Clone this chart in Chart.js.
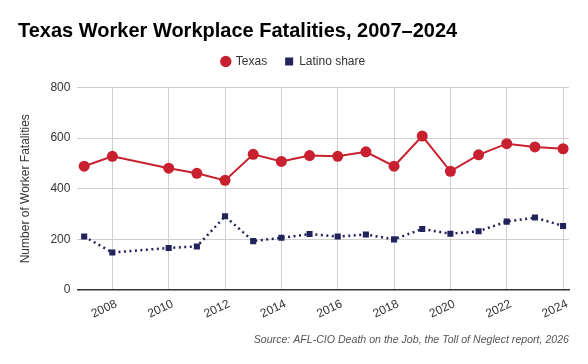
<!DOCTYPE html>
<html>
<head>
<meta charset="utf-8">
<script src="https://cdn.jsdelivr.net/npm/chart.js@4"></script>
<style>
html,body{margin:0;padding:0;background:#fff;}
#wrap{width:588px;height:364px;position:relative;}
</style>
</head>
<body>
<div id="wrap"><canvas id="c" width="588" height="364"></canvas></div>
<script>
const years = [2007, 2008, 2010, 2011, 2012, 2013, 2014, 2015, 2016, 2017, 2018, 2019, 2020, 2021, 2022, 2023, 2024];
const texas = [489, 528, 481, 461, 433, 536, 508, 531, 528, 546, 489, 608, 469, 534, 578, 565, 558];
const latinoShare = [211, 148, 166, 172, 291, 193, 206, 221, 211, 219, 200, 241, 222, 232, 270, 286, 253];
const xTickYears = [2008, 2010, 2012, 2014, 2016, 2018, 2020, 2022, 2024];
const yTicks = [0, 200, 400, 600, 800];

const FONT = "'Liberation Sans', Arial, sans-serif";
Chart.defaults.font.family = FONT;
Chart.defaults.color = '#333';

const legendShift = {
  id: 'legendShift',
  afterLayout(chart) {
    if (chart.legend) { chart.legend.top -= 10; chart.legend.bottom -= 10; }
  }
};

new Chart(document.getElementById('c'), {
  type: 'line',
  data: {
    datasets: [
      {
        label: 'Texas',
        data: years.map((y, i) => ({x: y, y: texas[i]})),
        borderColor: '#c8202f',
        backgroundColor: '#c8202f',
        borderWidth: 2,
        pointStyle: 'circle',
        pointRadius: 5.5,
        pointBorderWidth: 0,
        tension: 0
      },
      {
        label: 'Latino share',
        data: years.map((y, i) => ({x: y, y: latinoShare[i]})),
        borderColor: '#23235b',
        backgroundColor: '#23235b',
        borderWidth: 2.5,
        borderDash: [2, 3.5],
        pointStyle: 'rect',
        pointRadius: 4.3,
        pointBorderWidth: 0,
        tension: 0
      }
    ]
  },
  plugins: [legendShift],
  options: {
    responsive: false,
    animation: false,
    layout: {padding: {left: 18, right: 19, top: 0, bottom: 8}},
    plugins: {
      title: {
        display: true,
        text: 'Texas Worker Workplace Fatalities, 2007–2024',
        align: 'start',
        color: '#000',
        font: {size: 20, weight: 'bold', family: FONT},
        padding: {top: 19.5, bottom: 4}
      },
      subtitle: {
        display: true,
        position: 'bottom',
        align: 'end',
        text: 'Source: AFL-CIO Death on the Job, the Toll of Neglect report, 2026',
        color: '#555',
        font: {size: 10.6, style: 'italic', family: FONT},
        padding: {top: 5, bottom: 10}
      },
      legend: {
        display: true,
        position: 'top',
        align: 'center',
        labels: {
          usePointStyle: true,
          boxWidth: 8,
          boxHeight: 8,
          padding: 18,
          color: '#333',
          font: {size: 12, family: FONT}
        }
      },
      tooltip: {enabled: false}
    },
    scales: {
      x: {
        type: 'linear',
        min: 2006.76,
        max: 2024.21,
        afterBuildTicks: (scale) => { scale.ticks = xTickYears.map(v => ({value: v})); },
        grid: {color: '#d0d0d0', drawTicks: false},
        border: {display: true, color: '#333', width: 1.5},
        ticks: {
          minRotation: 25,
          maxRotation: 25,
          padding: 7,
          labelOffset: 4,
          color: '#333',
          font: {size: 12, family: FONT},
          callback: (v) => String(v)
        }
      },
      y: {
        min: 0,
        max: 800,
        afterBuildTicks: (scale) => { scale.ticks = yTicks.map(v => ({value: v})); },
        grid: {color: '#d0d0d0', drawTicks: false},
        border: {display: false},
        ticks: {padding: 7, color: '#333', font: {size: 12, family: FONT}},
        title: {
          display: true,
          text: 'Number of Worker Fatalities',
          color: '#333',
          font: {size: 12, family: FONT},
          padding: {top: 0, bottom: 11}
        }
      }
    }
  }
});
</script>
</body>
</html>
